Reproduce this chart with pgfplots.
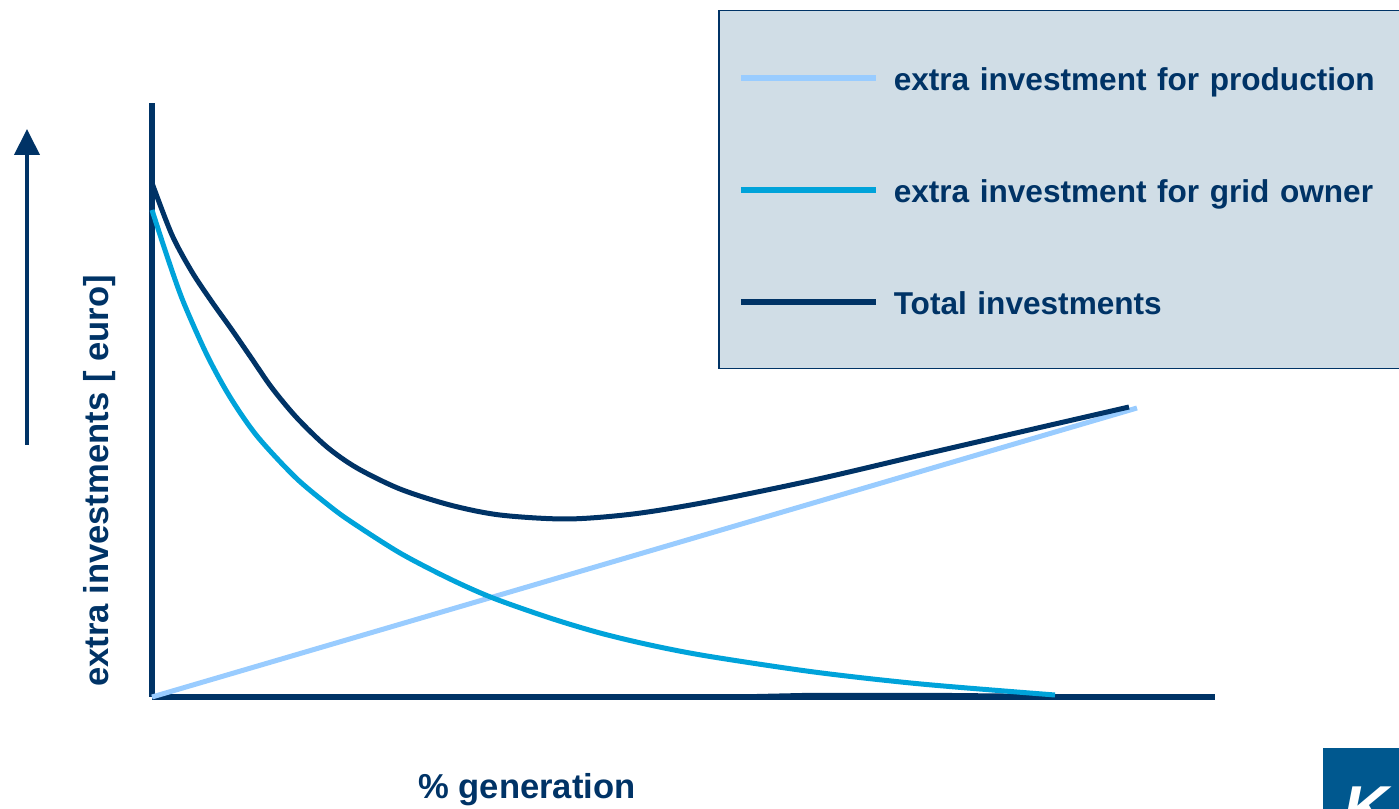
\documentclass[border=0pt]{standalone}
\usepackage{pgfplots}
\pgfplotsset{compat=1.18}
\usetikzlibrary{arrows.meta}
\usepackage{fontspec}
\setmainfont{Liberation Sans}
\definecolor{navy}{RGB}{0,51,102}
\definecolor{gridblue}{RGB}{0,163,218}
\definecolor{prodblue}{RGB}{153,204,255}
\definecolor{legbg}{RGB}{208,221,230}
\definecolor{logoblue}{RGB}{0,88,143}
\begin{document}
\begin{tikzpicture}
\useasboundingbox (-76pt,-56pt) rectangle (623.5pt,348.5pt);
\begin{axis}[
  scale only axis, width=531.5pt, height=297pt,
  xmin=0, xmax=1063, ymin=0, ymax=594,
  axis lines=left,
  axis line style={-, line width=2.8pt, navy},
  xtick=\empty, ytick=\empty,
  clip=false,
  xlabel={\% generation},
  ylabel={extra investments [ euro]},
  x label style={at={(axis description cs:0.3528,-0.1566)}, anchor=center,
    font=\fontsize{17.3}{20}\selectfont\bfseries, text=navy},
  y label style={at={(axis description cs:-0.0489,0.3636)}, anchor=center, rotate=0,
    font=\fontsize{17.3}{20}\selectfont\bfseries, text=navy},
  legend image code/.code={\draw[#1, line width=3pt] (0pt,0pt) -- (67.5pt,0pt);},
  legend cell align=left,
  legend style={at={(axis cs:566,687)}, anchor=north west, fill=legbg, draw=navy,
    line width=0.75pt, inner xsep=9.5pt, inner ysep=5.5pt, row sep=0pt, column sep=7.5pt,
    font=\fontsize{15.8}{19}\selectfont\bfseries, text=navy,
    nodes={inner sep=0pt, text height=13pt, text depth=0pt, minimum height=56pt,
      text width=265pt, align=left}},
]
\addplot[fill=navy, draw=none, forget plot] coordinates {(510,0)(560,2)(650,4)(800,4)(903,3)(903,0)} \closedcycle;
\addplot[prodblue, line width=2.5pt] coordinates {(0,0)(985,289)};
\addlegendentry{extra investment for production}
\addplot[gridblue, line width=2.5pt, smooth] coordinates {
(0,487)(15,441)(31,396)(55,342)(78,300)(105,261)(143,220)(175,193)(198,176)
(248,144)(298,118)(341,99)(398,79)(448,64)(498,52)(555,41)(662,25)(769,13)(903,2)};
\addlegendentry{extra investment for grid owner}
\addplot[navy, line width=2.5pt, smooth] coordinates {
(0,514)(20,462)(40,425)(60,395)(80,367)(100,338)(120,309)(145,279)(175,250)(205,229)
(248,208)(298,192)(348,182)(415,178)(481,183)(555,195)(662,217)(769,242)(877,267)(977,290)};
\addlegendentry{Total investments}
\draw[navy, line width=2pt, -{Triangle[length=13pt,width=12.5pt]}] (axis cs:-125,252) -- (axis cs:-125,568);
\fill[logoblue] (axis cs:1171,-51) rectangle (axis cs:1268,-133);
\node[anchor=base west, text=white, font=\fontsize{31}{31}\selectfont\bfseries\itshape, inner sep=0pt] at (axis cs:1191,-133) {K};
\end{axis}
\end{tikzpicture}
\end{document}
